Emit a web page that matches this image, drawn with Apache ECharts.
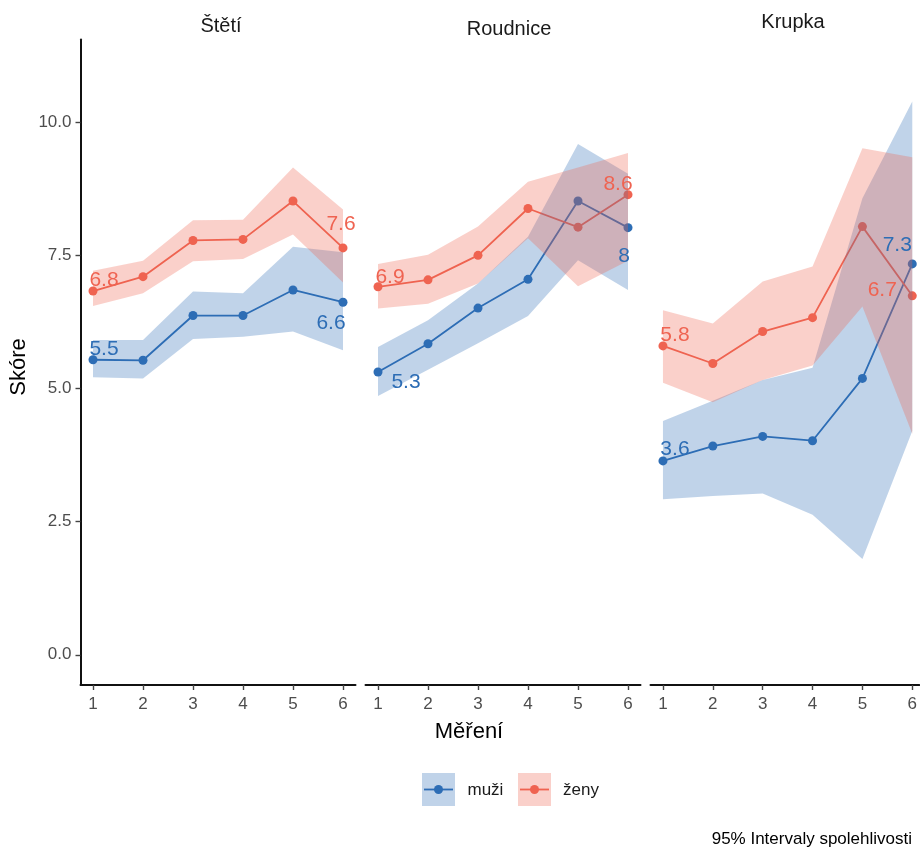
<!DOCTYPE html>
<html>
<head>
<meta charset="utf-8">
<script src="https://cdn.jsdelivr.net/npm/echarts@6/dist/echarts.min.js"></script>
<style>html,body{margin:0;padding:0;background:#fff}#c{width:920px;height:850px}</style>
</head>
<body>
<div id="c"></div>
<script>
// ---------- data ----------
const mereni = [1, 2, 3, 4, 5, 6];
const panels = ['Štětí', 'Roudnice', 'Krupka'];
const yTicks = [0, 2.5, 5, 7.5, 10];

// Štětí
const muziSteti = [5.54, 5.53, 6.37, 6.37, 6.85, 6.62];
const muziStetiLo = [5.21, 5.19, 5.93, 5.97, 6.07, 5.72];
const muziStetiHi = [5.91, 5.91, 6.82, 6.79, 7.66, 7.56];
const zenySteti = [6.83, 7.10, 7.78, 7.80, 8.52, 7.64];
const zenyStetiLo = [6.55, 6.79, 7.39, 7.43, 7.89, 6.99];
const zenyStetiHi = [7.21, 7.40, 8.16, 8.17, 9.15, 8.36];

// Roudnice
const muziRoudnice = [5.31, 5.84, 6.51, 7.05, 8.52, 8.02];
const muziRoudniceLo = [4.86, 5.35, 5.85, 6.36, 7.41, 6.85];
const muziRoudniceHi = [5.78, 6.28, 6.97, 7.85, 9.59, 9.03];
const zenyRoudnice = [6.91, 7.04, 7.50, 8.38, 8.03, 8.64];
const zenyRoudniceLo = [6.50, 6.59, 6.97, 7.82, 6.92, 7.40];
const zenyRoudniceHi = [7.34, 7.51, 8.04, 8.88, 9.15, 9.42];

// Krupka
const muziKrupka = [3.64, 3.92, 4.10, 4.02, 5.19, 7.34];
const muziKrupkaLo = [2.92, 2.98, 3.03, 2.63, 1.80, 4.20];
const muziKrupkaHi = [4.39, 4.77, 5.16, 5.39, 8.57, 10.39];
const zenyKrupka = [5.80, 5.47, 6.07, 6.33, 8.04, 6.74];
const zenyKrupkaLo = [5.11, 4.74, 5.16, 5.43, 6.54, 4.15];
const zenyKrupkaHi = [6.47, 6.22, 7.01, 7.29, 9.51, 9.34];

// ---------- styles ----------
const BLUE = '#2D6DB5';
const RED = '#EF6351';
const FONT = 'Liberation Sans';

const panelData = [
  { m: muziSteti, mLo: muziStetiLo, mHi: muziStetiHi, z: zenySteti, zLo: zenyStetiLo, zHi: zenyStetiHi },
  { m: muziRoudnice, mLo: muziRoudniceLo, mHi: muziRoudniceHi, z: zenyRoudnice, zLo: zenyRoudniceLo, zHi: zenyRoudniceHi },
  { m: muziKrupka, mLo: muziKrupkaLo, mHi: muziKrupkaHi, z: zenyKrupka, zLo: zenyKrupkaLo, zHi: zenyKrupkaHi }
];
// label offsets [first, last] for muži and ženy per panel
const labelOffsets = [
  { m: [[11, -11], [-12, 21]], z: [[11, -11], [-2, -24]] },
  { m: [[28, 10], [-4, 29]], z: [[12, -10], [-10, -10]] },
  { m: [[12, -12], [-15, -19]], z: [[12, -11], [-30, -6]] }
];
// panel layout: the last panel is cut off by the right edge of the picture
const gridLefts = [80.5, 365.5, 650.5];
const gridWidths = [275, 275, 269.5];
const xMax = [6.25, 6.25, 6.14];

const grids = [], xAxes = [], yAxes = [], series = [];
const fmt = v => String(Math.round(v * 10) / 10);

panels.forEach((p, k) => {
  grids.push({ left: gridLefts[k], top: 39.5, width: gridWidths[k], height: 645.5 });
  xAxes.push({
    type: 'value', gridIndex: k, min: 0.75, max: xMax[k],
    axisLine: { show: true, onZero: false, lineStyle: { color: '#111', width: 2 } },
    axisTick: { show: true, customValues: mereni, length: 5, lineStyle: { color: '#444', width: 1.4 } },
    axisLabel: { show: true, customValues: mereni, margin: 11, color: '#4d4d4d', fontSize: 17, fontFamily: FONT },
    splitLine: { show: false }
  });
  yAxes.push({
    type: 'value', gridIndex: k, min: -0.567, max: 11.553,
    show: k === 0,
    axisLine: { show: true, lineStyle: { color: '#111', width: 2 } },
    axisTick: { show: true, customValues: yTicks, length: 5, lineStyle: { color: '#444', width: 1.4 } },
    axisLabel: { show: true, customValues: yTicks, margin: 9, color: '#4d4d4d', fontSize: 17, fontFamily: FONT,
      formatter: v => v.toFixed(1) },
    splitLine: { show: false }
  });
  const d = panelData[k];
  const groups = [
    { vals: d.m, lo: d.mLo, hi: d.mHi, color: BLUE, name: 'muži', off: labelOffsets[k].m },
    { vals: d.z, lo: d.zLo, hi: d.zHi, color: RED, name: 'ženy', off: labelOffsets[k].z }
  ];
  // lines + points (beneath ribbons)
  groups.forEach(g => {
    series.push({
      type: 'line', name: g.name, xAxisIndex: k, yAxisIndex: k, z: 2,
      data: mereni.map((x, i) => [x, g.vals[i]]),
      symbol: 'circle', symbolSize: 9, showSymbol: true,
      lineStyle: { color: g.color, width: 1.8 },
      itemStyle: { color: g.color, opacity: 1 },
      animation: false
    });
  });
  // ribbons
  groups.forEach(g => {
    series.push({
      type: 'custom', name: g.name + ' CI', xAxisIndex: k, yAxisIndex: k, z: 3,
      data: mereni.map((x, i) => [x, g.lo[i], g.hi[i]]),
      encode: { x: 0, y: [1, 2] },
      renderItem: (params, api) => {
        if (params.dataIndex !== 0) return null;
        const pts = [];
        for (let i = 0; i < mereni.length; i++) pts.push(api.coord([mereni[i], g.hi[i]]));
        for (let i = mereni.length - 1; i >= 0; i--) pts.push(api.coord([mereni[i], g.lo[i]]));
        return { type: 'polygon', shape: { points: pts }, style: { fill: g.color, opacity: 0.3 } };
      },
      animation: false
    });
  });
  // value labels (first and last) on top
  groups.forEach(g => {
    const n = mereni.length - 1;
    series.push({
      type: 'scatter', xAxisIndex: k, yAxisIndex: k, z: 5, symbolSize: 0,
      itemStyle: { opacity: 1, color: g.color },
      data: [
        { value: [mereni[0], g.vals[0]], label: { offset: g.off[0] } },
        { value: [mereni[n], g.vals[n]], label: { offset: g.off[1] } }
      ],
      label: { show: true, position: 'inside', color: g.color, opacity: 1, fontSize: 21, fontFamily: FONT,
        formatter: pr => fmt(pr.value[1]) },
      silent: true, animation: false
    });
  });
});

const stripPos = [[221, 26], [509, 29], [793, 22]];
const graphic = [];
panels.forEach((p, k) => {
  graphic.push({ type: 'text', x: stripPos[k][0], y: stripPos[k][1],
    style: { text: p, fill: '#1a1a1a', font: '20px ' + FONT, textAlign: 'center', textVerticalAlign: 'middle' } });
});
graphic.push({ type: 'text', x: 19, y: 367, rotation: Math.PI / 2,
  style: { text: 'Skóre', fill: '#000', font: '22px ' + FONT, textAlign: 'center', textVerticalAlign: 'middle' } });
graphic.push({ type: 'text', x: 469, y: 732,
  style: { text: 'Měření', fill: '#000', font: '22px ' + FONT, textAlign: 'center', textVerticalAlign: 'middle' } });
// legend
[[422, BLUE, 'muži', 467.5], [518, RED, 'ženy', 563]].forEach(([lx, col, txt, tx]) => {
  graphic.push({ type: 'rect', shape: { x: lx, y: 773, width: 33, height: 33 }, style: { fill: col, opacity: 0.3 } });
  graphic.push({ type: 'line', shape: { x1: lx + 2, y1: 789.5, x2: lx + 31, y2: 789.5 }, style: { stroke: col, lineWidth: 1.8 } });
  graphic.push({ type: 'circle', shape: { cx: lx + 16.5, cy: 789.5, r: 4.5 }, style: { fill: col } });
  graphic.push({ type: 'text', x: tx, y: 790,
    style: { text: txt, fill: '#1a1a1a', font: '17px ' + FONT, textAlign: 'left', textVerticalAlign: 'middle' } });
});
graphic.push({ type: 'text', x: 912, y: 839,
  style: { text: '95% Intervaly spolehlivosti', fill: '#000', font: '17px ' + FONT, textAlign: 'right', textVerticalAlign: 'middle' } });

const chart = echarts.init(document.getElementById('c'), null, { renderer: 'canvas' });
chart.setOption({
  backgroundColor: '#fff',
  animation: false,
  grid: grids, xAxis: xAxes, yAxis: yAxes, series: series, graphic: graphic
});
</script>
</body>
</html>
